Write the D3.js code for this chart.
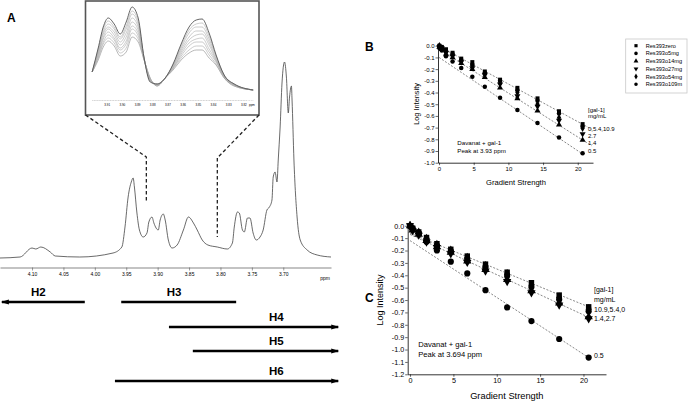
<!DOCTYPE html>
<html><head><meta charset="utf-8">
<script src="https://cdn.jsdelivr.net/npm/d3@7"></script>
<style>body{margin:0;background:#fff}svg text{font-family:Arial,"Liberation Sans",sans-serif;fill:#000}</style>
</head><body><svg id="chart" width="688" height="402"></svg>
<script>
// ---------- Panel A data ----------
const specPpm = [4.151,4.119,4.100,4.094,4.086,4.071,4.063,4.024,3.971,3.957,3.952,3.947,3.942,3.939,3.937,3.933,3.929,3.923,3.917,3.914,3.909,3.906,3.899,3.896,3.891,3.888,3.883,3.877,3.869,3.859,3.851,3.843,3.837,3.829,3.820,3.805,3.789,3.781,3.778,3.773,3.770,3.765,3.762,3.757,3.753,3.748,3.743,3.737,3.732,3.726,3.722,3.718,3.716,3.713,3.710,3.708,3.705,3.702,3.698,3.695,3.692,3.690,3.687,3.686,3.683,3.678,3.673,3.662,3.646,3.624];
const specInt = [0,1,10,9,11,6,2,1,5,11,31,61,76,80,71,45,28,21,25,36,41,35,28,38,44,38,18,10,13,28,41,35,28,18,13,11,9,15,31,46,45,28,26,40,40,25,18,21,28,48,51,58,81,86,76,98,131,175,196,181,145,161,172,158,98,41,18,8,3,1];
const ppmTicks = [4.10,4.05,4.00,3.95,3.90,3.85,3.80,3.75,3.70];
const zoomRange = [3.918, 3.805];

const insetPpm = [3.9199,3.9159,3.9126,3.9093,3.9054,3.9014,3.8975,3.8936,3.8896,3.8857,3.8817,3.8771,3.8718,3.8666,3.8613,3.8561,3.8514,3.8475,3.8429,3.8383,3.8330,3.8264,3.8139];
const insetTraces = [
 [18,30,43,49,44,34,38,53,48,30,12,4,12,20,30,37,40,40,32,25,12,4,0],
 [18,32,46,52,47,37,42,57,51,30,12,4,12,21,32,40,44,44,35,26,12,4,0],
 [18,33,48,55,50,40,46,61,54,31,11,5,12,22,34,44,48,48,38,28,13,5,0],
 [18,35,51,58,52,42,49,64,57,31,11,5,12,22,36,47,51,52,41,29,13,5,0],
 [18,36,53,61,55,45,53,68,60,31,10,5,12,23,38,50,55,56,45,30,14,5,0],
 [18,38,56,63,58,48,57,72,63,31,10,5,12,24,40,53,59,59,48,31,14,5,0],
 [18,39,58,66,61,51,61,76,66,32,9,6,12,25,42,57,63,63,51,33,14,6,0],
 [18,41,61,69,63,53,64,79,69,32,9,6,12,25,44,60,66,67,54,34,15,6,0],
 [18,42,63,72,66,56,68,83,72,32,8,6,12,26,46,63,70,71,57,35,15,6,0]
];
const insetTickLabels = ["3.91","3.90","3.89","3.88","3.87","3.86","3.85","3.84","3.83","3.82"];

const hLabels = ["H2","H3","H4","H5","H6"];
const hFrom = [4.016,3.958,3.882,3.844,3.968];
const hTo = [4.148,3.775,3.6125,3.6125,3.6125];
const hArrow = [true,false,true,true,true];
const hLabelPpm = [4.090,3.874,3.711,3.711,3.711];

// ---------- Panels B/C data ----------
const seriesNames = ["Res393zero","Res393o5mg","Res393o14mg","Res393o27mg","Res393o54mg","Res393o109m"];
const gradB = [0.05,0.4,1.0,1.95,3.2,4.8,6.6,8.8,11.3,14.2,17.3,20.7];
const valsB = [
 [0,-0.01,-0.03,-0.06,-0.11,-0.14,-0.22,-0.29,-0.36,-0.45,-0.56,-0.67],
 [-0.02,-0.04,-0.09,-0.135,-0.19,-0.265,-0.35,-0.445,-0.55,-0.66,-0.785,-0.92],
 [-0.01,-0.03,-0.07,-0.10,-0.15,-0.20,-0.27,-0.36,-0.45,-0.555,-0.675,-0.805],
 [-0.01,-0.02,-0.06,-0.09,-0.14,-0.19,-0.25,-0.33,-0.43,-0.52,-0.64,-0.755],
 [0,-0.02,-0.05,-0.08,-0.13,-0.17,-0.24,-0.32,-0.40,-0.50,-0.615,-0.705],
 [0,-0.015,-0.04,-0.07,-0.12,-0.16,-0.23,-0.30,-0.38,-0.47,-0.58,-0.69]
];
const fitInterceptB = [-0.005,-0.03,-0.10];
const fitSlopeB = [-0.0322,-0.0375,-0.0399];
const fitEndB = [22,22,20.9];
const concLabelsB = ["[gal-1]","mg/mL","0,5.4,10.9","2.7","1.4","0.5"];

const gradC = [0.0,0.3,1.0,1.9,3.1,4.7,6.6,8.7,11.2,14.0,17.2,20.6];
const valsC = [
 [0,-0.02,-0.05,-0.095,-0.145,-0.19,-0.245,-0.31,-0.375,-0.46,-0.56,-0.655],
 [0,-0.02,-0.06,-0.13,-0.20,-0.29,-0.385,-0.52,-0.66,-0.77,-0.915,-1.065],
 [0,-0.035,-0.07,-0.12,-0.17,-0.215,-0.285,-0.355,-0.435,-0.525,-0.625,-0.735],
 [0,-0.04,-0.075,-0.13,-0.175,-0.225,-0.295,-0.365,-0.45,-0.54,-0.64,-0.75],
 [0,-0.025,-0.055,-0.105,-0.155,-0.20,-0.26,-0.325,-0.39,-0.48,-0.58,-0.675],
 [0,-0.03,-0.06,-0.11,-0.16,-0.205,-0.27,-0.335,-0.405,-0.495,-0.595,-0.69]
];
const fitInterceptC = [-0.06,-0.07,-0.12];
const fitSlopeC = [-0.0289,-0.0325,-0.0459];
const fitEndC = [21,21,20.7];
const concLabelsC = ["[gal-1]","mg/mL","10.9,5.4,0","1.4,2.7","0.5"];

// ---------- drawing ----------
const svg = d3.select("#chart");
const fmt = d => (Math.abs(d) < 1e-9 ? 0 : d).toFixed(1);

// Panel A
svg.append("text").attr("x",7).attr("y",22).attr("font-size",12).attr("font-weight","bold").text("A");
const xA = d3.scaleLinear().domain([4.151,3.624]).range([0,331]);
const yA = d3.scaleLinear().domain([0,196]).range([258,62]);
svg.append("path").datum(d3.zip(specPpm,specInt))
  .attr("fill","none").attr("stroke","#444").attr("stroke-width",0.8)
  .attr("d", d3.line().x(d=>xA(d[0])).y(d=>yA(d[1])).curve(d3.curveMonotoneX));

const gAx = svg.append("g").attr("transform","translate(0,267.5)");
gAx.call(d3.axisBottom(xA).tickValues(d3.range(363,416).map(v=>v/100)).tickSize(2).tickSizeOuter(0).tickFormat(""));
gAx.call(d3.axisBottom(xA).tickValues(ppmTicks).tickSize(3).tickSizeOuter(0).tickFormat(d=>d.toFixed(2)));
gAx.selectAll("path").attr("stroke","#555").attr("stroke-width",0.7);
gAx.selectAll("line").attr("stroke","#555").attr("stroke-width",0.6);
gAx.selectAll("text").attr("y",6).attr("font-size",5).attr("font-family","DejaVu Sans Mono").attr("fill","#222").attr("dy","0.45em");
svg.append("text").attr("x",325).attr("y",279.5).attr("font-size",5).attr("font-family","DejaVu Sans Mono").attr("fill","#222").attr("text-anchor","middle").text("ppm");

// inset
const xIn = d3.scaleLinear().domain([3.92,3.814]).range([92,253]);
const yIn = d3.scaleLinear().domain([0,83]).range([90,7]);
svg.append("rect").attr("x",85.5).attr("y",1).attr("width",173.5).attr("height",114)
  .attr("fill","#fff").attr("stroke","#555").attr("stroke-width",1.6);
const inLine = d3.line().x((d,i)=>xIn(insetPpm[i])).y(d=>yIn(d)).curve(d3.curveMonotoneX);
insetTraces.forEach((tr,i)=>{
  svg.append("path").datum(tr).attr("fill","none")
    .attr("stroke", i===insetTraces.length-1 ? "#555" : (i===0 ? "#888":"#aaa"))
    .attr("stroke-width", i===insetTraces.length-1 ? 0.9 : 0.6).attr("d",inLine);
});
const gIn = svg.append("g").attr("transform","translate(0,100)");
gIn.call(d3.axisBottom(xIn).tickValues(d3.range(3819,3921).map(v=>v/1000)).tickSize(0.8).tickSizeOuter(0).tickFormat(""));
gIn.selectAll("path").attr("stroke","#999").attr("stroke-width",0.4).attr("stroke-dasharray","0.8,0.8");
gIn.selectAll("line").attr("stroke","#aaa").attr("stroke-width",0.3);
svg.append("g").selectAll("text").data(insetTickLabels).join("text")
  .attr("x",d=>xIn(+d)).attr("y",106).attr("font-size",3).attr("font-family","DejaVu Sans Mono")
  .attr("fill","#555").attr("text-anchor","middle").text(d=>d);
svg.append("text").attr("x",249).attr("y",106).attr("font-size",3).attr("font-family","DejaVu Sans Mono").attr("fill","#555").text("ppm");

// dashed connectors
const dashStyle = s => s.attr("fill","none").attr("stroke","#222").attr("stroke-width",1.3).attr("stroke-dasharray","3.5,2.5");
svg.append("path").attr("d",`M85.5,115 L${xA(zoomRange[0])},157 L${xA(zoomRange[0])},203`).call(dashStyle);
svg.append("path").attr("d",`M259,115 L${xA(zoomRange[1])},158 L${xA(zoomRange[1])},237`).call(dashStyle);

// H ranges
const defs = svg.append("defs");
defs.append("marker").attr("id","ah").attr("markerUnits","userSpaceOnUse").attr("markerWidth",8).attr("markerHeight",6)
  .attr("refX",7).attr("refY",3).attr("orient","auto")
  .append("path").attr("d","M0,0.5 L8,3 L0,5.5 Z").attr("fill","#000");
const hRowY = [302,302,327,351,381];
hLabels.forEach((lab,i)=>{
  const ln = svg.append("line").attr("x1",xA(hFrom[i])).attr("x2",xA(hTo[i]))
    .attr("y1",hRowY[i]).attr("y2",hRowY[i]).attr("stroke","#000").attr("stroke-width",2.4);
  if (hArrow[i]) ln.attr("marker-end","url(#ah)");
  svg.append("text").attr("x",xA(hLabelPpm[i])).attr("y",hRowY[i]-6).attr("text-anchor","middle")
    .attr("font-size",11.5).attr("font-weight","bold").text(lab);
});

// ---------- Panels B and C ----------
const symTypes = [d3.symbolSquare,d3.symbolCircle,d3.symbolTriangle,d3.symbolTriangle,d3.symbolDiamond,d3.symbolCircle];
const symRot = [0,0,0,180,0,0];

function panel(o){
  const x = d3.scaleLinear().domain(o.xDom).range(o.xRange);
  const y = d3.scaleLinear().domain(o.yDom).range(o.yRange);
  svg.append("text").attr("x",o.letter[1]).attr("y",o.letter[2]).attr("font-size",12).attr("font-weight","bold").text(o.letter[0]);
  const gy = svg.append("g").attr("transform",`translate(${o.xRange[0]},0)`);
  gy.call(d3.axisLeft(y).tickValues(d3.range(0, o.yMin-0.001, -0.05).map(v=>+v.toFixed(2))).tickSize(1.3).tickSizeOuter(0).tickFormat(""));
  gy.call(d3.axisLeft(y).tickValues(d3.range(0, o.yMin-0.001, -0.1).map(v=>+v.toFixed(1))).tickSize(2.5).tickSizeOuter(0).tickFormat(fmt));
  const gx = svg.append("g").attr("transform",`translate(0,${o.yRange[0]})`);
  gx.call(d3.axisBottom(x).tickValues(d3.range(0,22.6,2.5)).tickSize(1.3).tickSizeOuter(0).tickFormat(""));
  gx.call(d3.axisBottom(x).tickValues([0,5,10,15,20]).tickSize(2.5).tickSizeOuter(0));
  [gx,gy].forEach(g=>{
    g.selectAll("path").attr("stroke","#000").attr("stroke-width",0.8);
    g.selectAll("line").attr("stroke","#000").attr("stroke-width",0.6);
    g.selectAll("text").attr("font-size",o.tickFs).attr("font-family","Arial");
  });
  gy.selectAll("text").attr("x",-3.5);
  gx.selectAll("text").attr("y",4);
  svg.append("text").attr("x",(o.xRange[0]+o.xRange[1])/2+o.xTitleDx).attr("y",o.xTitleY).attr("text-anchor","middle")
    .attr("font-size",o.titleFs).text("Gradient Strength");
  svg.append("text").attr("transform",`translate(${o.yTitleX},${o.yTitleY}) rotate(-90)`).attr("text-anchor","middle")
    .attr("font-size",o.titleFs*0.97).text("Log Intensity");
  o.fitI.forEach((b,i)=>{
    svg.append("line").attr("x1",x(0)).attr("y1",y(b)).attr("x2",x(o.fitE[i])).attr("y2",y(b+o.fitS[i]*o.fitE[i]))
      .attr("stroke","#6a6a6a").attr("stroke-width",0.8).attr("stroke-dasharray","2,1.6");
  });
  o.vals.forEach((vs,si)=>{
    const sym = d3.symbol().type(symTypes[si]).size(o.symSize);
    svg.append("g").selectAll("path").data(vs).join("path")
      .attr("transform",(v,i)=>`translate(${x(o.grad[i])},${y(v)}) rotate(${symRot[si]})`)
      .attr("d",sym).attr("fill","#000");
  });
  svg.append("text").attr("x",o.ann[0]).attr("y",o.ann[1]).attr("font-size",o.annFs).text("Davanat + gal-1");
  svg.append("text").attr("x",o.ann[0]).attr("y",o.ann[1]+o.annGap).attr("font-size",o.annFs).text(o.peak);
  o.conc.forEach((t,i)=>{
    svg.append("text").attr("x",o.concX).attr("y",o.concY[i]).attr("font-size",o.concFs).text(t);
  });
  return {x,y};
}

panel({letter:["B",365,51], xDom:[-0.15,22.2], xRange:[438,593], yDom:[-1,0.02], yRange:[162.7,43.4], yMin:-1,
  tickFs:6, titleFs:7.6, xTitleDx:0.5, xTitleY:184.5, yTitleX:419, yTitleY:104,
  fitI:fitInterceptB, fitS:fitSlopeB, fitE:fitEndB, vals:valsB, grad:gradB, symSize:16,
  ann:[457.3,144.5], annGap:8.3, annFs:6.2, peak:"Peak at 3.93 ppm",
  conc:concLabelsB, concX:588, concY:[111.5,118.2,131.2,138.2,145,152.8], concFs:6});

panel({letter:["C",365,302], xDom:[-0.27,22.6], xRange:[407.7,606], yDom:[-1.2,0.02], yRange:[374.3,223.3], yMin:-1.2,
  tickFs:7.2, titleFs:9.3, xTitleDx:0, xTitleY:399, yTitleX:383, yTitleY:300,
  fitI:fitInterceptC, fitS:fitSlopeC, fitE:fitEndC, vals:valsC, grad:gradC, symSize:30,
  ann:[418.3,347], annGap:10, annFs:7.6, peak:"Peak at 3.694 ppm",
  conc:concLabelsC, concX:594, concY:[291.8,301.8,311.5,320.8,357.5], concFs:7});

// Legend B
const lg = svg.append("g");
lg.append("rect").attr("x",625.7).attr("y",39).attr("width",61.3).attr("height",54)
  .attr("fill","#fff").attr("stroke","#c8c8c8").attr("stroke-width",0.8);
seriesNames.forEach((n,i)=>{
  const yy = 45.7 + i*7.7;
  lg.append("path").attr("transform",`translate(636,${yy}) rotate(${symRot[i]})`)
    .attr("d",d3.symbol().type(symTypes[i]).size(10)).attr("fill","#000");
  lg.append("text").attr("x",645.7).attr("y",yy+2).attr("font-size",5.6).text(n);
});
</script></body></html>
